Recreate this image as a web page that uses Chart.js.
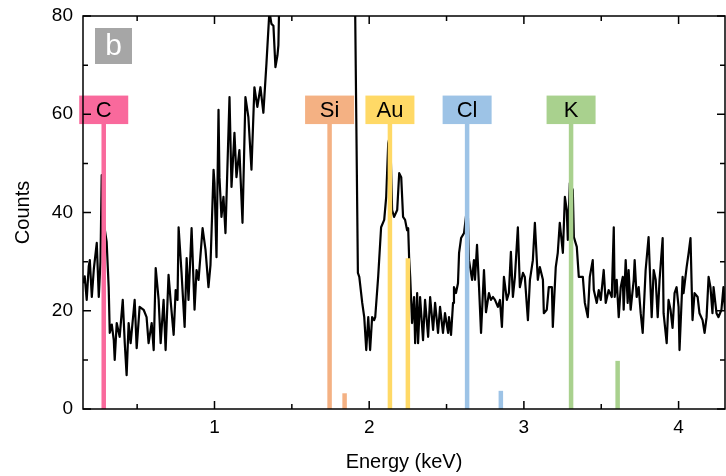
<!DOCTYPE html>
<html>
<head>
<meta charset="utf-8">
<script src="https://cdn.jsdelivr.net/npm/chart.js@4/dist/chart.umd.min.js"></script>
<style>
  html, body { margin: 0; padding: 0; background: #fff; }
  #wrap { width: 726px; height: 476px; }
</style>
</head>
<body>
<div id="wrap"><canvas id="chart" width="726" height="476"></canvas></div>
<script>
// EDS spectrum (energy in keV, counts)
const energy = [
  0.150, 0.161, 0.174, 0.187, 0.194, 0.207, 0.220, 0.239, 0.252, 0.263, 0.271, 0.284, 0.303, 0.316, 0.323, 0.336,
  0.349, 0.355, 0.368, 0.387, 0.407, 0.420, 0.432, 0.445, 0.458, 0.478, 0.484, 0.497, 0.516, 0.542, 0.561, 0.574,
  0.594, 0.607, 0.620, 0.639, 0.652, 0.671, 0.684, 0.703, 0.716, 0.736, 0.749, 0.761, 0.768, 0.787, 0.807, 0.820,
  0.832, 0.852, 0.871, 0.884, 0.897, 0.923, 0.942, 0.961, 0.974, 0.994, 1.000, 1.013, 1.026, 1.032, 1.045, 1.058,
  1.071, 1.097, 1.110, 1.129, 1.142, 1.161, 1.181, 1.200, 1.219, 1.239, 1.258, 1.277, 1.297, 1.316, 1.336, 1.355,
  1.368, 1.381, 1.394, 1.407, 1.413, 1.426, 1.450, 1.500, 1.550, 1.600, 1.650, 1.700, 1.750, 1.800, 1.850, 1.900,
  1.909, 1.927, 1.936, 1.955, 1.968, 1.981, 1.994, 2.006, 2.019, 2.032, 2.039, 2.058, 2.077, 2.097, 2.110, 2.123,
  2.136, 2.148, 2.161, 2.181, 2.194, 2.207, 2.219, 2.232, 2.245, 2.252, 2.258, 2.265, 2.277, 2.290, 2.297, 2.310,
  2.316, 2.329, 2.348, 2.361, 2.381, 2.394, 2.413, 2.426, 2.445, 2.458, 2.477, 2.490, 2.510, 2.516, 2.529, 2.542,
  2.548, 2.561, 2.574, 2.581, 2.594, 2.613, 2.636, 2.645, 2.665, 2.677, 2.684, 2.697, 2.710, 2.723, 2.742, 2.755,
  2.774, 2.787, 2.800, 2.813, 2.832, 2.845, 2.858, 2.871, 2.890, 2.903, 2.916, 2.929, 2.942, 2.961, 2.974, 2.994,
  3.006, 3.026, 3.039, 3.058, 3.071, 3.090, 3.103, 3.123, 3.129, 3.148, 3.161, 3.181, 3.187, 3.206, 3.219, 3.232,
  3.252, 3.265, 3.277, 3.284, 3.297, 3.316, 3.323, 3.342, 3.355, 3.381, 3.394, 3.413, 3.426, 3.445, 3.452, 3.471,
  3.484, 3.497, 3.516, 3.529, 3.548, 3.568, 3.581, 3.587, 3.600, 3.613, 3.626, 3.639, 3.645, 3.658, 3.671, 3.677,
  3.690, 3.710, 3.716, 3.729, 3.742, 3.755, 3.768, 3.787, 3.806, 3.826, 3.839, 3.852, 3.865, 3.877, 3.897, 3.903,
  3.923, 3.935, 3.948, 3.961, 3.974, 3.987, 4.000, 4.006, 4.026, 4.032, 4.052, 4.065, 4.077, 4.090, 4.103, 4.123,
  4.135, 4.155, 4.168, 4.181, 4.194, 4.206, 4.219, 4.226, 4.245, 4.258, 4.277, 4.290, 4.300
];
const counts = [
  25.6, 27.0, 22.2, 29.0, 30.3, 22.8, 28.5, 33.8, 22.8, 30.0, 47.6, 38.0, 34.0, 24.8, 15.5, 17.2,
  14.0, 10.0, 17.5, 14.7, 22.2, 13.4, 6.9, 17.5, 13.4, 20.2, 22.2, 12.4, 20.8, 20.2, 18.7, 13.4,
  17.5, 12.0, 28.7, 22.2, 13.4, 22.2, 12.0, 27.3, 22.2, 15.1, 24.2, 22.2, 37.0, 27.7, 16.7, 30.7,
  22.2, 36.8, 20.2, 28.3, 26.3, 36.8, 32.4, 24.8, 29.3, 48.7, 46.0, 30.9, 60.9, 47.2, 39.1, 43.2,
  35.8, 63.5, 45.2, 56.2, 47.2, 52.7, 37.9, 63.5, 59.4, 48.7, 65.5, 61.5, 65.5, 60.3, 70.4, 81.0,
  78.4, 78.0, 69.6, 72.0, 74.0, 95.0, 130, 180, 230, 280, 330, 380, 420, 440, 450, 440,
  82.0, 27.7, 26.9, 21.6, 18.7, 12.0, 18.7, 12.0, 18.7, 18.1, 18.7, 26.9, 37.0, 38.5, 43.2, 54.1,
  55.8, 40.5, 39.1, 40.5, 48.0, 47.2, 39.1, 38.5, 36.4, 36.8, 30.9, 26.9, 17.5, 22.8, 13.4, 23.6,
  13.4, 22.8, 14.0, 22.2, 14.7, 22.8, 16.1, 21.6, 15.5, 20.8, 15.5, 19.5, 15.5, 18.7, 15.1, 21.6,
  24.8, 23.6, 25.6, 31.8, 34.8, 35.8, 42.0, 30.3, 26.3, 30.3, 26.3, 33.4, 24.8, 15.5, 28.3, 19.7,
  23.6, 22.2, 22.8, 22.2, 20.8, 22.2, 16.7, 26.9, 22.2, 23.6, 32.0, 22.8, 26.9, 37.0, 24.8, 27.7,
  26.9, 18.1, 26.3, 30.3, 37.9, 26.3, 28.9, 26.3, 19.5, 20.2, 24.8, 24.8, 16.7, 28.9, 31.8, 37.9,
  31.8, 43.2, 40.5, 34.4, 46.0, 44.6, 35.0, 33.0, 26.9, 26.9, 21.6, 18.7, 26.9, 30.3, 24.2, 21.6,
  24.2, 22.2, 28.3, 21.6, 24.2, 22.8, 37.0, 22.8, 26.3, 18.7, 24.8, 26.9, 20.2, 30.3, 21.6, 28.3,
  20.2, 26.3, 30.3, 22.8, 24.8, 19.5, 15.5, 28.3, 35.0, 18.7, 28.3, 26.3, 18.7, 26.3, 34.8, 19.5,
  13.4, 22.2, 20.2, 16.5, 23.6, 24.8, 20.8, 12.0, 26.9, 23.6, 28.9, 31.8, 34.8, 18.1, 23.6, 22.8,
  19.5, 18.1, 15.5, 18.7, 26.9, 24.8, 19.5, 24.8, 19.5, 18.7, 20.2, 24.8, 20.0
];

// element markers: main line energies and label
const elements = ['C', 'Si', 'Au', 'Cl', 'K'];
const elementEnergy = [0.284, 1.744, 2.134, 2.633, 3.305];
const elementLineTop = 58;
// secondary lines: energy, height, index of element
const minorEnergy = [1.841, 2.250, 2.851, 3.606];
const minorHeight = [3.2, 30.7, 3.7, 9.8];
const minorOwner = [1, 2, 3, 4];

const xTicks = [1, 2, 3, 4];
const xMinor = [0.5, 1.5, 2.5, 3.5];
const yMinor = [10, 30, 50, 70];
const panelLabel = 'b';

const elementColors = ['#F9699C', '#F4B183', '#FFD966', '#9DC3E6', '#A9D18E'];
const FONT = '"Liberation Sans", Arial, sans-serif';

const datasets = [];
elements.forEach((el, i) => {
  datasets.push({
    data: [{x: elementEnergy[i], y: 0}, {x: elementEnergy[i], y: elementLineTop}],
    borderColor: elementColors[i], borderWidth: 4.5, borderCapStyle: 'butt',
    pointRadius: 0, order: 0
  });
});
minorEnergy.forEach((e, i) => {
  datasets.push({
    data: [{x: e, y: 0}, {x: e, y: minorHeight[i]}],
    borderColor: elementColors[minorOwner[i]], borderWidth: 4.5, borderCapStyle: 'butt',
    pointRadius: 0, order: 0
  });
});
datasets.push({
  data: energy.map((e, i) => ({x: e, y: counts[i]})),
  borderColor: '#000', borderWidth: 2.2, pointRadius: 0, tension: 0,
  borderJoinStyle: 'round', order: 1
});

const decorPlugin = {
  id: 'decor',
  afterDatasetsDraw(chart) {
    const {ctx, chartArea: a, scales: {x, y}} = chart;
    ctx.save();
    // element label boxes
    ctx.font = '22px ' + FONT;
    ctx.textAlign = 'center';
    ctx.textBaseline = 'middle';
    elements.forEach((el, i) => {
      const cx = x.getPixelForValue(elementEnergy[i]);
      const by = y.getPixelForValue(elementLineTop);
      ctx.fillStyle = elementColors[i];
      ctx.fillRect(cx - 24.5, by - 28.5, 49, 28.5);
      ctx.fillStyle = '#000';
      ctx.fillText(el, cx, by - 13.5);
    });
    // panel label
    ctx.fillStyle = '#A6A6A6';
    ctx.fillRect(a.left + 12, a.top + 12, 37, 36);
    ctx.fillStyle = '#fff';
    ctx.font = '30px ' + FONT;
    ctx.fillText(panelLabel, a.left + 30.5, a.top + 31);

    // frame
    ctx.strokeStyle = '#000';
    ctx.lineWidth = 1.5;
    ctx.strokeRect(a.left, a.top, a.right - a.left, a.bottom - a.top);
    // inward ticks on all four sides
    const tick = (px, len, horiz) => {
      ctx.beginPath();
      if (horiz) {
        ctx.moveTo(px, a.bottom); ctx.lineTo(px, a.bottom - len);
        ctx.moveTo(px, a.top); ctx.lineTo(px, a.top + len);
      } else {
        ctx.moveTo(a.left, px); ctx.lineTo(a.left + len, px);
        ctx.moveTo(a.right, px); ctx.lineTo(a.right - len, px);
      }
      ctx.stroke();
    };
    xTicks.forEach(v => tick(x.getPixelForValue(v), 8, true));
    xMinor.forEach(v => tick(x.getPixelForValue(v), 5, true));
    y.ticks.forEach(t => tick(y.getPixelForValue(t.value), 8, false));
    yMinor.forEach(v => tick(y.getPixelForValue(v), 5, false));
    ctx.restore();
  }
};

new Chart(document.getElementById('chart'), {
  type: 'line',
  data: { datasets },
  options: {
    responsive: false,
    animation: false,
    layout: { padding: { top: 16, right: 1, left: 0, bottom: 0 } },
    plugins: { legend: { display: false }, tooltip: { enabled: false } },
    scales: {
      x: {
        type: 'linear', min: 0.15, max: 4.3,
        grid: { display: false, drawTicks: false },
        border: { display: false },
        afterBuildTicks: s => { s.ticks = xTicks.map(v => ({value: v})); },
        afterFit: s => { s.height = 67; s.paddingLeft = 0; s.paddingRight = 0; },
        ticks: { color: '#000', padding: 7, font: { family: FONT, size: 19 }, maxRotation: 0 },
        title: { display: true, text: 'Energy (keV)', color: '#000',
                 font: { family: FONT, size: 20 }, padding: { top: 0, bottom: 2 } }
      },
      y: {
        min: 0, max: 80,
        grid: { display: false, drawTicks: false },
        border: { display: false },
        afterFit: s => { s.width = 83; s.paddingTop = 0; s.paddingBottom = 0; },
        ticks: { stepSize: 20, color: '#000', padding: 10, font: { family: FONT, size: 19 } },
        title: { display: true, text: 'Counts', color: '#000',
                 font: { family: FONT, size: 20 }, padding: { top: 11, bottom: 0 } }
      }
    }
  },
  plugins: [decorPlugin]
});
</script>
</body>
</html>
